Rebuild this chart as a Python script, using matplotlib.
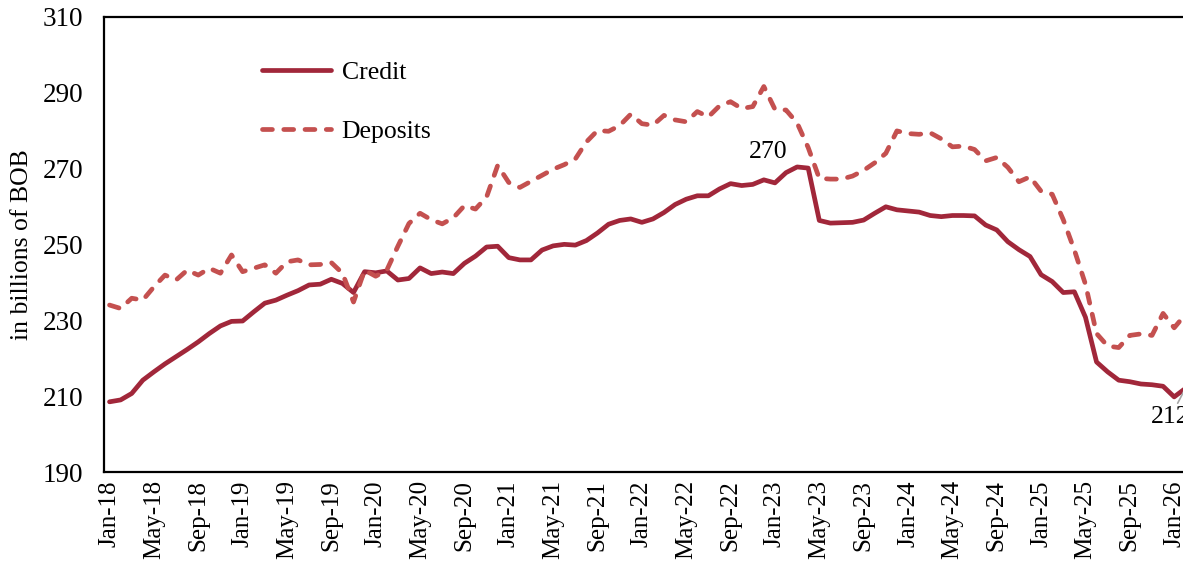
import matplotlib
matplotlib.use("Agg")
import matplotlib.pyplot as plt
import numpy as np
import pandas as pd

# monthly series, Jan-2018 .. Feb-2026 (billions of BOB)
months = pd.date_range("2018-01-01", periods=98, freq="MS").strftime("%b-%y").tolist()

credit = [
    208.5, 209.0, 210.7, 214.2, 216.4, 218.5, 220.4, 222.3, 224.3, 226.5, 228.5, 229.7,
    229.8, 232.2, 234.5, 235.3, 236.6, 237.8, 239.3, 239.5, 240.8, 239.7, 237.3, 242.8,
    242.5, 243.0, 240.6, 241.0, 243.8, 242.3, 242.7, 242.3, 245.0, 246.9, 249.3, 249.5,
    246.5, 245.9, 245.9, 248.5, 249.6, 250.0, 249.8, 251.0, 253.0, 255.3, 256.3, 256.7,
    255.8, 256.7, 258.4, 260.5, 261.9, 262.8, 262.8, 264.6, 266.0, 265.5, 265.8, 267.0,
    266.2, 268.9, 270.4, 270.1, 256.3, 255.6, 255.7, 255.8, 256.4, 258.2, 259.9, 259.1,
    258.8, 258.5, 257.6, 257.3, 257.6, 257.6, 257.5, 255.1, 253.8, 250.7, 248.6, 246.8,
    242.0, 240.2, 237.3, 237.5, 230.8, 219.0, 216.4, 214.2, 213.8, 213.2, 213.0, 212.6,
    209.8, 212.0,
]

deposits = [
    234.0, 233.1, 235.8, 235.3, 238.8, 241.9, 240.6, 243.2, 241.9, 243.7, 242.4, 247.2,
    242.8, 243.7, 244.6, 242.4, 245.4, 245.9, 244.6, 244.7, 245.2, 242.4, 234.8, 243.2,
    241.6, 243.2, 249.5, 255.5, 258.2, 256.5, 255.4, 257.0, 260.2, 259.3, 262.5, 270.8,
    266.3, 265.0, 266.6, 268.2, 269.8, 271.0, 272.5, 277.0, 280.0, 279.8, 281.3, 284.3,
    281.8, 281.4, 284.0, 282.8, 282.3, 285.0, 283.6, 286.5, 287.6, 285.8, 286.3, 291.6,
    285.6, 285.4, 282.0, 275.5, 267.4, 267.2, 267.2, 268.0, 269.5, 271.5, 274.0, 279.9,
    279.2, 279.0, 279.4, 277.8, 275.7, 275.9, 275.0, 272.0, 272.9, 270.3, 266.5, 267.8,
    264.0, 263.2, 256.5, 248.5, 239.5, 226.5, 223.2, 222.8, 226.0, 226.4, 226.0, 231.8,
    228.0, 231.5,
]

plt.rcParams["font.family"] = ["Liberation Serif", "DejaVu Serif"]

fig = plt.figure(figsize=(11.83, 5.64), dpi=100)
# plot area runs slightly past the right edge of the canvas
ax = fig.add_axes([0.0879, 0.1631, 1.0066 - 0.0879, 0.9704 - 0.1631])

x = np.arange(len(months))
ax.plot(x, credit, color="#A1273A", lw=3.4, solid_joinstyle="round",
        solid_capstyle="round", label="Credit")
ax.plot(x, deposits, color="#C4504F", lw=3.4, dashes=(2.1, 2.4),
        dash_capstyle="round", dash_joinstyle="round", label="Deposits")

ax.set_xlim(-0.5, len(months) - 0.5)
ax.set_ylim(190, 310)
ax.set_yticks(np.arange(190, 311, 20))
ax.set_xticks(x[::4])
ax.set_xticklabels(months[::4], rotation=90, fontsize=18)
ax.tick_params(axis="y", labelsize=19.5, length=0, pad=15)
ax.tick_params(axis="x", length=0, pad=6)

for s in ax.spines.values():
    s.set_linewidth(1.6)
    s.set_color("black")

ax.set_ylabel("in billions of BOB", fontsize=18.5)
ax.yaxis.set_label_coords(-0.0655, 0.5)

# peak and latest credit value labels
i_max = int(np.argmax(credit))
ax.annotate(f"{credit[i_max]:.0f}", xy=(x[i_max], credit[i_max]),
            xytext=(-20.6, 10.5), textcoords="offset points",
            ha="center", va="center", fontsize=18.5)
ax.annotate(f"{credit[-1]:.0f}", xy=(x[-1], credit[-1]),
            xytext=(-10.6, -20.5), textcoords="offset points",
            ha="center", va="center", fontsize=18.5,
            arrowprops=dict(arrowstyle="-", color="#A6A6A6", lw=1.2,
                            shrinkA=0, shrinkB=0))

ax.legend(loc="center left", bbox_to_anchor=(0.1454, 0.8116), frameon=False,
          fontsize=18.5, handlelength=2.7, handletextpad=0.4, labelspacing=1.4,
          borderpad=0, borderaxespad=0)

fig.savefig("out.png", dpi=100)
